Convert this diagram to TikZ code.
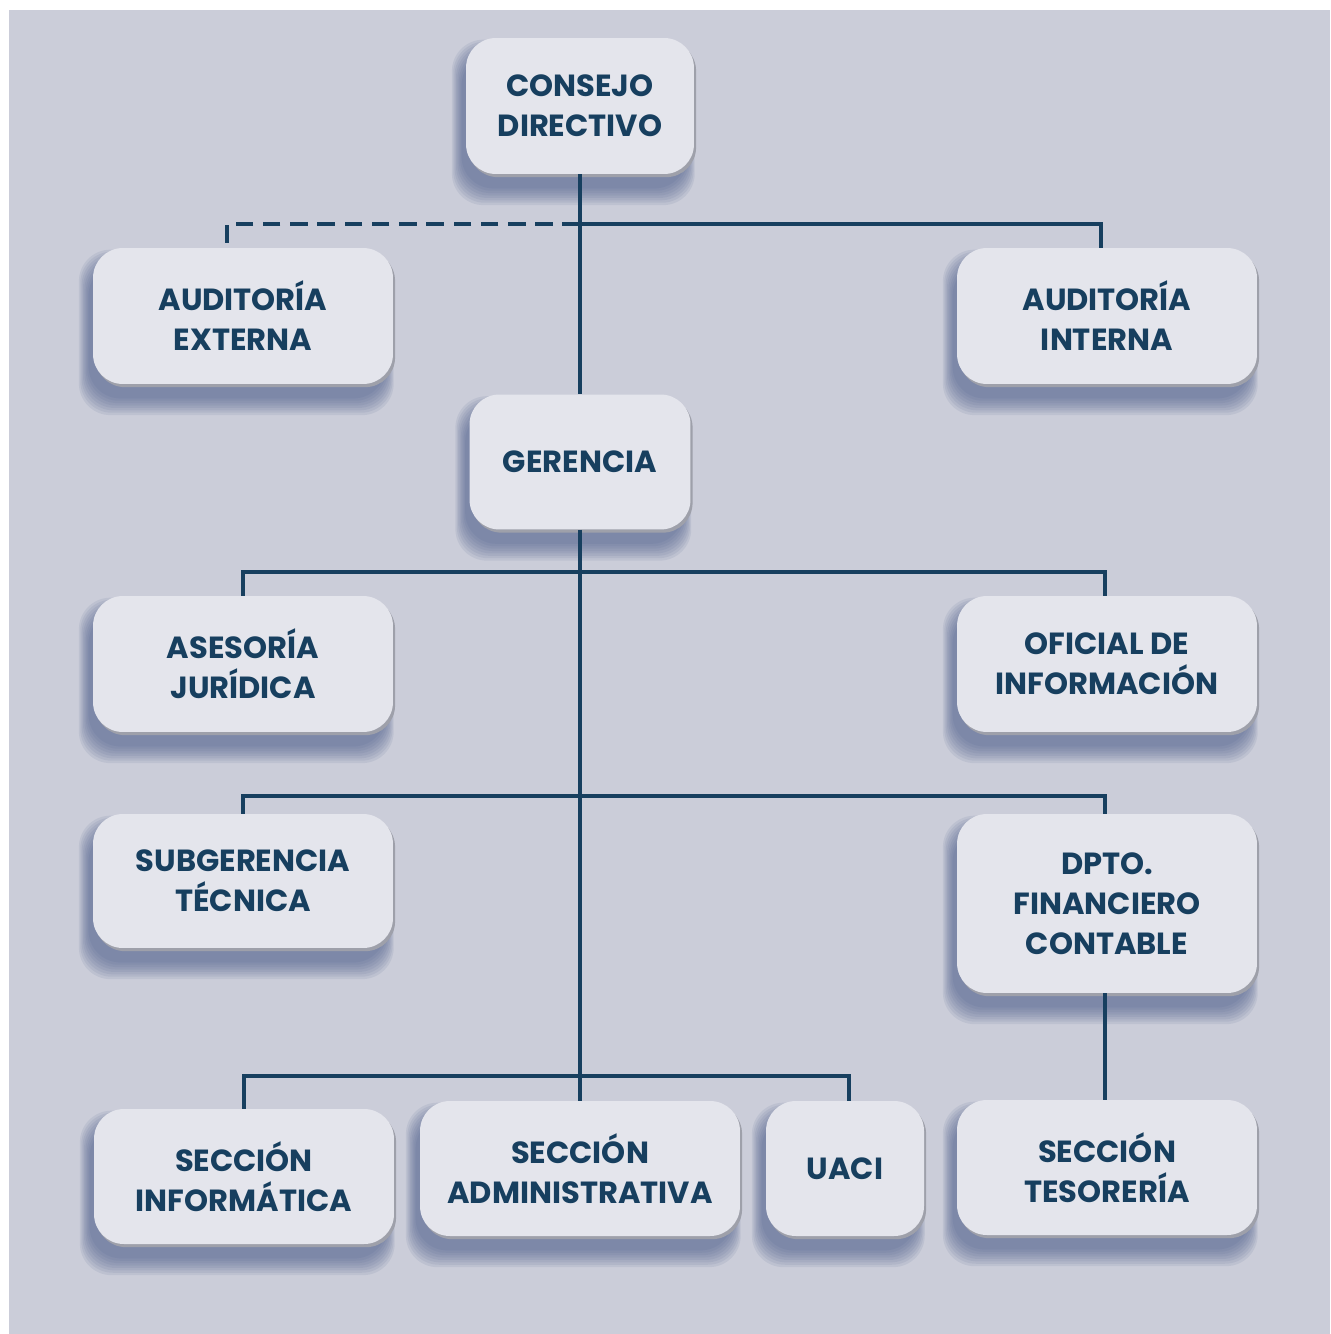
\documentclass[tikz,border=0pt]{standalone}
\usepackage{fontspec}
\setmainfont{Poppins}
\usetikzlibrary{calc,backgrounds}
\definecolor{fondo}{RGB}{203,205,217}
\definecolor{caja}{RGB}{228,229,236}
\definecolor{borde}{RGB}{158,160,170}
\definecolor{azul}{RGB}{23,63,95}
\definecolor{sombra}{RGB}{72,90,137}
\tikzset{
  caja/.style={rectangle, rounded corners=17pt, inner sep=0pt,
    minimum width=6cm, minimum height=2.72cm,
    fill=caja, text=azul, align=center,
    font=\bfseries\fontsize{17.4}{22.7}\selectfont,
    preaction={fill=borde, transform canvas={xshift=1.2pt, yshift=-1.8pt}}},
  linea/.style={azul, line width=2.3pt},
  punteada/.style={linea, dash pattern=on 10pt off 5.5pt}
}
\begin{document}
\begin{tikzpicture}[x=0.02cm, y=-0.02cm]
  \useasboundingbox (0,0) rectangle (1330,1334);

  % puntos de union
  \coordinate (j1) at (580,224);
  \coordinate (j2) at (580,572);
  \coordinate (j3) at (580,796);
  \coordinate (j4) at (580,1076);

  % cajas
  \node[caja, minimum width=4.56cm] (consejo) at (580,106) {CONSEJO\\DIRECTIVO};
  \node[caja] (audext) at (243,316) {AUDITORÍA\\EXTERNA};
  \node[caja] (audint) at (1107,316) {AUDITORÍA\\INTERNA};
  \node[caja, minimum width=4.42cm, minimum height=2.7cm] (gerencia) at (580,462) {GERENCIA};
  \node[caja] (asesoria) at (243,664) {ASESORÍA\\JURÍDICA};
  \node[caja] (oficial) at (1107,664) {OFICIAL DE\\INFORMACIÓN};
  \node[caja, minimum height=2.68cm] (subger) at (243,881) {SUBGERENCIA\\TÉCNICA};
  \node[caja, minimum height=3.58cm] (dpto) at (1107,903.5) {DPTO.\\FINANCIERO\\CONTABLE};
  \node[caja, minimum height=2.7cm] (secinf) at (244,1176.5) {SECCIÓN\\INFORMÁTICA};
  \node[caja, minimum width=6.4cm, minimum height=2.7cm] (secadm) at (580,1168.5) {SECCIÓN\\ADMINISTRATIVA};
  \node[caja, minimum width=3.16cm, minimum height=2.7cm] (uaci) at (845,1168.5) {UACI};
  \node[caja, minimum height=2.7cm] (sectes) at (1107,1167.5) {SECCIÓN\\TESORERÍA};

  % fondo y sombras
  \begin{scope}[on background layer]
    \fill[fondo] (9,10) rectangle (1330,1334);
    \foreach \n in {consejo,audext,audint,gerencia,asesoria,oficial,
                    subger,dpto,secinf,secadm,uaci,sectes} {
      \foreach \s in {0,2,...,14} {
        \fill[sombra, opacity=0.1, rounded corners=18pt]
          ($(\n.north west)+(-4-0.7*\s,16-\s)$) rectangle ($(\n.south east)+(-8+0.6*\s,14+1.2*\s)$);
      }
    }
  \end{scope}

  % lineas
  \draw[linea] (consejo.south) -- (gerencia.north);
  \draw[punteada] (j1) -| ($(audext.north)+(-16,0)$);
  \draw[linea] (j1) -| ($(audint.north)+(-6,0)$);
  \draw[linea] (gerencia.south) -- (secadm.north);
  \draw[linea] (asesoria.north) |- (j2) -| ($(oficial.north)+(-2,0)$);
  \draw[linea] (subger.north) |- (j3) -| ($(dpto.north)+(-2,0)$);
  \draw[linea] (secinf.north) |- (j4) -| ($(uaci.north)+(4,0)$);
  \draw[linea] ($(dpto.south)+(-2,0)$) -- ($(sectes.north)+(-2,0)$);
\end{tikzpicture}
\end{document}
